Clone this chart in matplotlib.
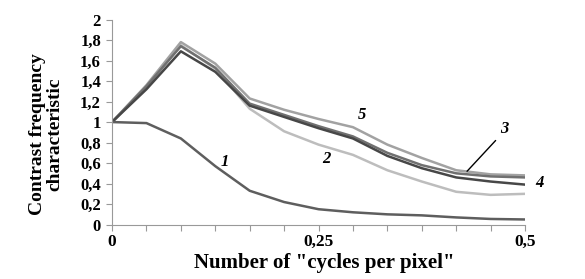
import matplotlib
matplotlib.use("Agg")
import matplotlib.pyplot as plt

# DATOS
# -------------------------
x_labels = ["0", "", "", "", "", "", "0,25", "", "", "", "", "", "0,5"]

curve1 = [1.0, 0.99, 0.84, 0.57, 0.33, 0.22, 0.15, 0.12, 0.10, 0.09, 0.07, 0.055, 0.05]
curve2 = [1.0, 1.34, 1.75, 1.52, 1.13, 0.91, 0.78, 0.68, 0.53, 0.42, 0.32, 0.29, 0.30]
curve3 = [1.0, 1.35, 1.74, 1.53, 1.18, 1.07, 0.96, 0.86, 0.70, 0.58, 0.50, 0.47, 0.46]
curve4 = [1.0, 1.32, 1.69, 1.49, 1.16, 1.05, 0.94, 0.84, 0.67, 0.55, 0.46, 0.42, 0.39]
curve5 = [1.0, 1.36, 1.78, 1.57, 1.23, 1.12, 1.03, 0.95, 0.78, 0.65, 0.53, 0.49, 0.48]

y_ticks = [0, 0.2, 0.4, 0.6, 0.8, 1.0, 1.2, 1.4, 1.6, 1.8, 2.0]
y_labels = ["0", "0,2", "0,4", "0,6", "0,8", "1", "1,2", "1,4", "1,6", "1,8", "2"]

# FIGURA
# -------------------------
plt.rcParams["font.family"] = ["Liberation Serif", "DejaVu Serif"]

fig = plt.figure(figsize=(5.85, 2.79), dpi=100)
ax = fig.add_axes([0.1915, 0.195, 0.706, 0.735])

xs = list(range(len(x_labels)))
ax.plot(xs, curve2, color="#bdbdbd", lw=1.8)
ax.plot(xs, curve5, color="#a2a2a2", lw=1.8)
ax.plot(xs, curve3, color="#707070", lw=1.8)
ax.plot(xs, curve4, color="#474747", lw=1.8)
ax.plot(xs, curve1, color="#5e5e5e", lw=1.8)

ax.set_xlim(0, 12)
ax.set_ylim(0, 2)

ax.set_xticks(xs)
ax.set_xticklabels(x_labels, fontsize=12.5, fontweight="bold")
ax.set_yticks(y_ticks)
ax.set_yticklabels(y_labels, fontsize=12, fontweight="bold")
ax.tick_params(axis="x", direction="out", length=4, color="#999999", pad=3)
ax.tick_params(axis="y", direction="out", length=4, color="#999999", pad=4)

for s in ["top", "right"]:
    ax.spines[s].set_visible(False)
for s in ["left", "bottom"]:
    ax.spines[s].set_color("#999999")

ax.set_xlabel('Number of "cycles per pixel"', fontsize=15, fontweight="bold", va="top")
ax.xaxis.set_label_coords(0.513, -0.14)
ax.set_ylabel("Contrast frequency\ncharacteristic", fontsize=14, fontweight="bold",
              linespacing=1.0)
ax.yaxis.set_label_coords(-0.118, 0.44)

# ETIQUETAS DE CURVAS
# -------------------------
lab = dict(fontsize=12, fontweight="bold", style="italic", ha="center", va="center")
ax.text(3.28, 0.61, "1", **lab)
ax.text(6.24, 0.64, "2", **lab)
ax.text(7.26, 1.07, "5", **lab)
ax.text(11.4, 0.93, "3", **lab)
ax.text(12.42, 0.41, "4", **lab)
ax.annotate("", xy=(10.26, 0.50), xytext=(11.2, 0.84),
            arrowprops=dict(arrowstyle="-", color="black", lw=1.0),
            annotation_clip=False)
ax.texts[-2].set_clip_on(False)

fig.savefig("out.png", dpi=100)
